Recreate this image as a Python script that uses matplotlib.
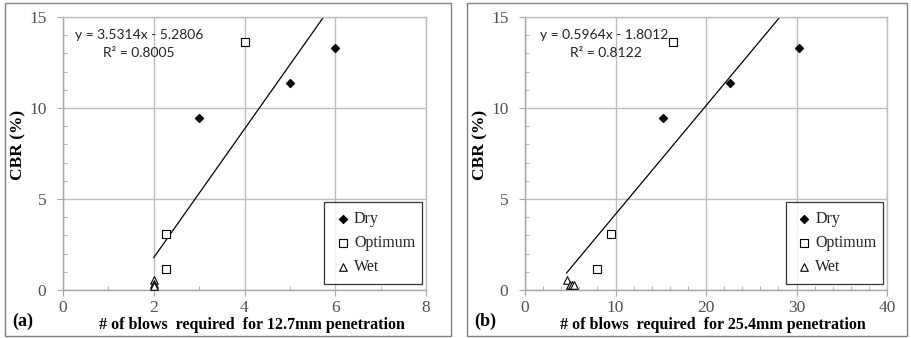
import matplotlib.pyplot as plt
from matplotlib.patches import Rectangle
from matplotlib.ticker import MultipleLocator
import numpy as np

plt.rcParams['font.family'] = 'serif'
plt.rcParams['font.serif'] = ['Liberation Serif']

# CBR vs number of blows, panel (a) 12.7 mm penetration
dry_x_a = [3, 5, 6]
dry_y_a = [9.45, 11.4, 13.3]
opt_x_a = [4.0, 2.27, 2.27]
opt_y_a = [13.6, 3.05, 1.15]
wet_x_a = [2.0, 2.0, 2.0]
wet_y_a = [0.55, 0.35, 0.2]
fit_a = (3.5314, -5.2806, 0.8005)

# panel (b) 25.4 mm penetration
dry_x_b = [15.2, 22.6, 30.3]
dry_y_b = [9.45, 11.4, 13.3]
opt_x_b = [16.4, 9.5, 8.0]
opt_y_b = [13.6, 3.05, 1.15]
wet_x_b = [4.6, 5.0, 5.2, 5.4]
wet_y_b = [0.55, 0.3, 0.25, 0.3]
fit_b = (0.5964, -1.8012, 0.8122)

serif = 'Liberation Serif'
sans = 'Lato'
grid_c = '#bdbdbd'


def draw_panel(fig, rect, frame, dry, opt, wet, fit, xmax, xmajor, xminor,
               xlabel, tag, eq_pos):
    # outer frame around each panel
    fig.patches.append(Rectangle((frame[0], frame[1]), frame[2], frame[3],
                                 transform=fig.transFigure, fill=False,
                                 ec='#7f7f7f', lw=1.0))
    ax = fig.add_axes(rect)
    ax.set_xlim(0, xmax)
    ax.set_ylim(0, 15)
    xt = np.arange(0, xmax + 0.01, xmajor)
    ax.set_xticks(xt, ['%g' % v for v in xt], fontfamily=serif)
    ax.set_yticks([0, 5, 10, 15], ['0', '5', '10', '15'], fontfamily=serif)
    ax.xaxis.set_minor_locator(MultipleLocator(xminor))
    ax.yaxis.set_minor_locator(MultipleLocator(1))
    ax.grid(True, which='major', color=grid_c, lw=1.0)
    ax.set_axisbelow(True)
    for s in ax.spines.values():
        s.set_color('#a6a6a6')
        s.set_linewidth(1.0)
    ax.spines['top'].set_color(grid_c)
    ax.spines['right'].set_color(grid_c)
    ax.tick_params(which='major', direction='out', length=4, color='#a6a6a6',
                   labelsize=12.5, labelcolor='#505050')
    ax.tick_params(axis='y', which='major', pad=8)
    ax.tick_params(axis='x', which='major', pad=3)
    ax.tick_params(which='minor', direction='in', length=3, color='#a6a6a6')

    ax.scatter(dry[0], dry[1], marker='D', s=16, c='black', label='Dry', zorder=3)
    ax.scatter(opt[0], opt[1], marker='s', s=40, facecolors='white',
               edgecolors='black', linewidths=0.8, label='Optimum', zorder=3)
    ax.scatter(wet[0], wet[1], marker='^', s=30, facecolors='white',
               edgecolors='black', linewidths=0.8, label='Wet', zorder=3)

    # linear trendline over the range of all points
    slope, icpt, r2 = fit
    allx = dry[0] + opt[0] + wet[0]
    xs = np.linspace(min(allx), max(allx), 50)
    ax.plot(xs, slope * xs + icpt, color='black', lw=0.9, zorder=2)

    ax.text(eq_pos[0], 0.934, 'y = %.4fx - %.4f' % (slope, -icpt),
            transform=ax.transAxes, fontsize=10, family=sans,
            va='center', ha='left', color='#222222')
    ax.text(eq_pos[1], 0.868, 'R² = %.4f' % r2,
            transform=ax.transAxes, fontsize=10, family=sans,
            va='center', ha='left', color='#222222')

    leg = ax.legend(loc='lower left', bbox_to_anchor=(0.72, 0.022, 0.268, 0.29),
                    mode='expand', prop={'family': serif, 'size': 11.5},
                    frameon=True, fancybox=False, edgecolor='black',
                    handletextpad=0.1, handlelength=1.2, labelspacing=0.5,
                    borderpad=0.55, scatterpoints=1, borderaxespad=0)
    leg.get_frame().set_linewidth(0.9)
    for t in leg.get_texts():
        t.set_color('#222222')

    ax.set_xlabel(xlabel, fontsize=11.5, family=serif, fontweight='bold',
                  labelpad=1, x=0.52)
    ax.set_ylabel('CBR (%)', fontsize=12.5, family=serif, fontweight='bold')
    ax.yaxis.set_label_coords(-0.102, 0.53)
    fig.text(frame[0] + 0.008, 0.05, tag, fontsize=13, family=serif,
             fontweight='bold', va='center', ha='left')
    return ax


fig = plt.figure(figsize=(9.11, 3.38), dpi=100)

draw_panel(fig, [63 / 911, 1 - 290 / 338, 363 / 911, 273 / 338],
           (5 / 911, 2 / 338, 446 / 911, 333 / 338),
           (dry_x_a, dry_y_a), (opt_x_a, opt_y_a), (wet_x_a, wet_y_a), fit_a,
           8, 2, 1, '# of blows  required  for 12.7mm penetration', '(a)',
           (0.033, 0.11))
draw_panel(fig, [525 / 911, 1 - 290 / 338, 362 / 911, 273 / 338],
           (467 / 911, 2 / 338, 440 / 911, 333 / 338),
           (dry_x_b, dry_y_b), (opt_x_b, opt_y_b), (wet_x_b, wet_y_b), fit_b,
           40, 10, 2, '# of blows  required  for 25.4mm penetration', '(b)',
           (0.041, 0.124))

fig.savefig('out.png', dpi=100)
